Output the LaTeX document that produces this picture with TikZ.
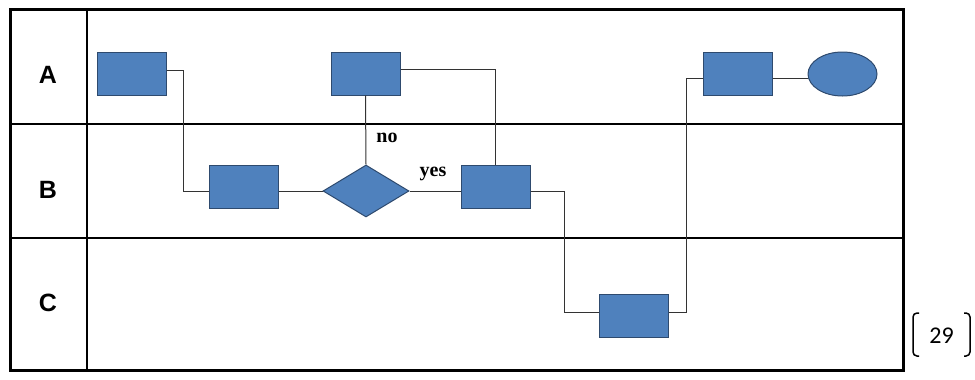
\documentclass[tikz,border=0pt]{standalone}
\usepackage{fontspec}
\setmainfont{Liberation Serif}
\setsansfont{Liberation Sans}
\newfontfamily\calib{Carlito}
\usetikzlibrary{shapes.geometric}
\definecolor{boxblue}{HTML}{4F81BD}
\definecolor{boxedge}{HTML}{2E4A6E}
\definecolor{conn}{HTML}{333333}
\tikzset{
  x=1pt,y=-1pt,
  proc/.style={draw=boxedge,fill=boxblue,line width=1pt,minimum width=69pt,minimum height=43pt,inner sep=0pt},
  dec/.style={draw=boxedge,fill=boxblue,line width=1pt,diamond,aspect=1.65,minimum width=86pt,minimum height=52pt,inner sep=0pt},
  term/.style={draw=boxedge,fill=boxblue,line width=1pt,ellipse,minimum width=69pt,minimum height=44pt,inner sep=0pt},
  wire/.style={draw=conn,line width=1pt},
  lane/.style={font=\sffamily\bfseries\fontsize{25}{25}\selectfont},
  cond/.style={font=\bfseries\fontsize{20}{20}\selectfont},
}
\begin{document}
\begin{tikzpicture}
\useasboundingbox (0,0) rectangle (975,380);
% swimlane frame
\draw[line width=1.5pt] (87,9) -- (87,370);
\draw[line width=1.5pt] (10,124) -- (903,124);
\draw[line width=1.5pt] (10,238) -- (903,238);
\draw[line width=3pt] (10,9) rectangle (903,370);
\node[lane] (la) at (48,75) {A};
\node[lane] (lb) at (48,190) {B};
\node[lane] (lc) at (48,303) {C};
% nodes
\node[proc] (b1) at (131.5,74) {};
\node[proc] (b2) at (244,186.5) {};
\node[dec] (d1) at (366,191) {};
\node[proc] (b3) at (365.5,73.5) {};
\node[proc] (b4) at (495.5,186.5) {};
\node[proc] (b5) at (634,316) {};
\node[proc] (b6) at (738,73.5) {};
\node[term] (e1) at (842.5,74) {};
% connectors
\draw[wire] ([yshift=4pt]b1.east) -| (183,191) coordinate (k1) -- (b2.west |- k1);
\draw[wire] (b2.east |- d1.west) -- (d1.west);
\draw[wire] (b3.south) -- (d1.north);
\draw[wire] (d1.east) -- (b4.west |- d1.east);
\draw[wire] ([yshift=4.5pt]b3.east) -| (b4.north);
\draw[wire] (b4.east |- d1.east) -| (564,312) coordinate (k2) -- (b5.west |- k2);
\draw[wire] (b5.east |- k2) -| (686,78) coordinate (k3) -- (b6.west |- k3);
\draw[wire] (b6.east |- k3) -- (e1.west |- k3);
% labels
\node[cond] (tno) at (387,138) {no};
\node[cond] (tyes) at (433,174) {yes};
% page number bracket
\draw[line width=1.5pt,rounded corners=4pt] (919,313) -- (913,313) -- (913,356) -- (919,356);
\draw[line width=1.5pt,rounded corners=4pt] (964,313) -- (970,313) -- (970,356) -- (964,356);
\node[font=\calib\fontsize{24}{24}\selectfont] (pg) at (941.5,336) {29};
\end{tikzpicture}
\end{document}
